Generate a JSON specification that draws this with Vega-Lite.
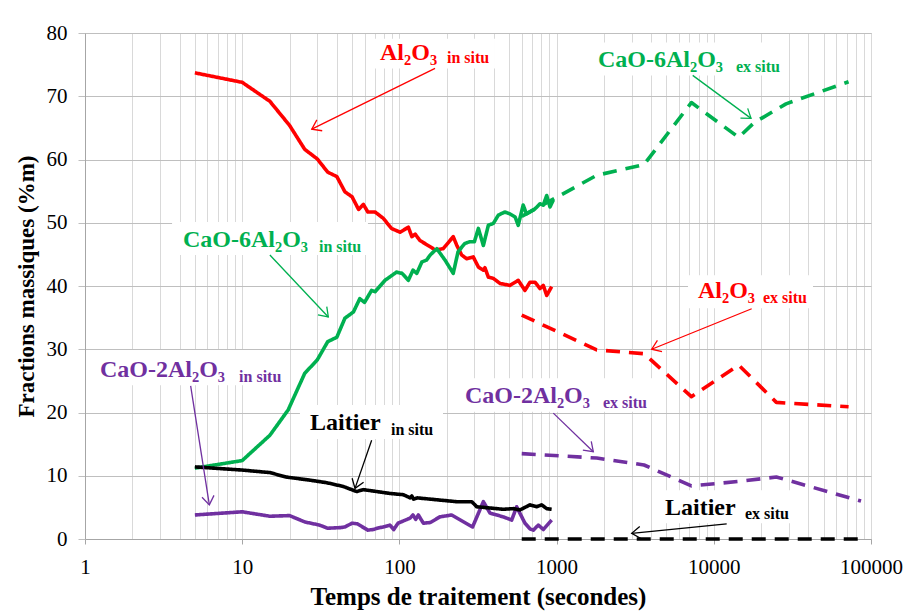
{
  "$schema": "https://vega.github.io/schema/vega-lite/v6.json",
  "width": 786,
  "height": 506,
  "autosize": {"type": "none"},
  "padding": {"left": 85, "top": 33, "right": 34, "bottom": 76},
  "background": "white",
  "config": {
    "font": "Liberation Serif",
    "view": {"stroke": "#bfbfbf"}
  },
  "datasets": {
    "series": [
      {"t": 5, "v": 73.7, "s": "Al2O3", "k": "in situ"},
      {"t": 10, "v": 72.2, "s": "Al2O3", "k": "in situ"},
      {"t": 15, "v": 69.2, "s": "Al2O3", "k": "in situ"},
      {"t": 20, "v": 65.4, "s": "Al2O3", "k": "in situ"},
      {"t": 25, "v": 61.6, "s": "Al2O3", "k": "in situ"},
      {"t": 30, "v": 60.1, "s": "Al2O3", "k": "in situ"},
      {"t": 35, "v": 58.0, "s": "Al2O3", "k": "in situ"},
      {"t": 40, "v": 57.3, "s": "Al2O3", "k": "in situ"},
      {"t": 45, "v": 54.9, "s": "Al2O3", "k": "in situ"},
      {"t": 50, "v": 54.1, "s": "Al2O3", "k": "in situ"},
      {"t": 55, "v": 52.1, "s": "Al2O3", "k": "in situ"},
      {"t": 59, "v": 52.9, "s": "Al2O3", "k": "in situ"},
      {"t": 63, "v": 51.7, "s": "Al2O3", "k": "in situ"},
      {"t": 70, "v": 51.7, "s": "Al2O3", "k": "in situ"},
      {"t": 79, "v": 50.7, "s": "Al2O3", "k": "in situ"},
      {"t": 89, "v": 49.1, "s": "Al2O3", "k": "in situ"},
      {"t": 101, "v": 48.5, "s": "Al2O3", "k": "in situ"},
      {"t": 114, "v": 49.3, "s": "Al2O3", "k": "in situ"},
      {"t": 120, "v": 47.8, "s": "Al2O3", "k": "in situ"},
      {"t": 126, "v": 48.2, "s": "Al2O3", "k": "in situ"},
      {"t": 135, "v": 47.2, "s": "Al2O3", "k": "in situ"},
      {"t": 157, "v": 46.2, "s": "Al2O3", "k": "in situ"},
      {"t": 169, "v": 45.7, "s": "Al2O3", "k": "in situ"},
      {"t": 190, "v": 45.9, "s": "Al2O3", "k": "in situ"},
      {"t": 220, "v": 47.8, "s": "Al2O3", "k": "in situ"},
      {"t": 232, "v": 46.4, "s": "Al2O3", "k": "in situ"},
      {"t": 249, "v": 44.9, "s": "Al2O3", "k": "in situ"},
      {"t": 268, "v": 44.3, "s": "Al2O3", "k": "in situ"},
      {"t": 295, "v": 44.6, "s": "Al2O3", "k": "in situ"},
      {"t": 318, "v": 43.0, "s": "Al2O3", "k": "in situ"},
      {"t": 342, "v": 42.5, "s": "Al2O3", "k": "in situ"},
      {"t": 350, "v": 42.9, "s": "Al2O3", "k": "in situ"},
      {"t": 368, "v": 41.4, "s": "Al2O3", "k": "in situ"},
      {"t": 396, "v": 41.2, "s": "Al2O3", "k": "in situ"},
      {"t": 437, "v": 40.4, "s": "Al2O3", "k": "in situ"},
      {"t": 505, "v": 40.1, "s": "Al2O3", "k": "in situ"},
      {"t": 570, "v": 40.9, "s": "Al2O3", "k": "in situ"},
      {"t": 629, "v": 39.3, "s": "Al2O3", "k": "in situ"},
      {"t": 677, "v": 40.6, "s": "Al2O3", "k": "in situ"},
      {"t": 729, "v": 40.6, "s": "Al2O3", "k": "in situ"},
      {"t": 784, "v": 39.6, "s": "Al2O3", "k": "in situ"},
      {"t": 823, "v": 40.1, "s": "Al2O3", "k": "in situ"},
      {"t": 865, "v": 38.5, "s": "Al2O3", "k": "in situ"},
      {"t": 930, "v": 39.9, "s": "Al2O3", "k": "in situ"},

      {"t": 5, "v": 11.2, "s": "CaO-6Al2O3", "k": "in situ"},
      {"t": 10, "v": 12.4, "s": "CaO-6Al2O3", "k": "in situ"},
      {"t": 15, "v": 16.4, "s": "CaO-6Al2O3", "k": "in situ"},
      {"t": 19.6, "v": 20.4, "s": "CaO-6Al2O3", "k": "in situ"},
      {"t": 25, "v": 26.2, "s": "CaO-6Al2O3", "k": "in situ"},
      {"t": 30, "v": 28.3, "s": "CaO-6Al2O3", "k": "in situ"},
      {"t": 35, "v": 31.2, "s": "CaO-6Al2O3", "k": "in situ"},
      {"t": 40, "v": 31.9, "s": "CaO-6Al2O3", "k": "in situ"},
      {"t": 45, "v": 34.9, "s": "CaO-6Al2O3", "k": "in situ"},
      {"t": 51, "v": 35.9, "s": "CaO-6Al2O3", "k": "in situ"},
      {"t": 56, "v": 38.0, "s": "CaO-6Al2O3", "k": "in situ"},
      {"t": 60, "v": 37.4, "s": "CaO-6Al2O3", "k": "in situ"},
      {"t": 66.5, "v": 39.3, "s": "CaO-6Al2O3", "k": "in situ"},
      {"t": 70, "v": 39.1, "s": "CaO-6Al2O3", "k": "in situ"},
      {"t": 81, "v": 40.9, "s": "CaO-6Al2O3", "k": "in situ"},
      {"t": 96, "v": 42.2, "s": "CaO-6Al2O3", "k": "in situ"},
      {"t": 104, "v": 42.0, "s": "CaO-6Al2O3", "k": "in situ"},
      {"t": 114, "v": 40.9, "s": "CaO-6Al2O3", "k": "in situ"},
      {"t": 122, "v": 42.5, "s": "CaO-6Al2O3", "k": "in situ"},
      {"t": 129, "v": 42.0, "s": "CaO-6Al2O3", "k": "in situ"},
      {"t": 139, "v": 43.8, "s": "CaO-6Al2O3", "k": "in situ"},
      {"t": 149, "v": 44.1, "s": "CaO-6Al2O3", "k": "in situ"},
      {"t": 157, "v": 44.9, "s": "CaO-6Al2O3", "k": "in situ"},
      {"t": 173, "v": 45.9, "s": "CaO-6Al2O3", "k": "in situ"},
      {"t": 195, "v": 44.1, "s": "CaO-6Al2O3", "k": "in situ"},
      {"t": 220, "v": 42.0, "s": "CaO-6Al2O3", "k": "in situ"},
      {"t": 236, "v": 45.4, "s": "CaO-6Al2O3", "k": "in situ"},
      {"t": 260, "v": 46.7, "s": "CaO-6Al2O3", "k": "in situ"},
      {"t": 280, "v": 47.0, "s": "CaO-6Al2O3", "k": "in situ"},
      {"t": 300, "v": 47.0, "s": "CaO-6Al2O3", "k": "in situ"},
      {"t": 318, "v": 49.1, "s": "CaO-6Al2O3", "k": "in situ"},
      {"t": 342, "v": 46.4, "s": "CaO-6Al2O3", "k": "in situ"},
      {"t": 368, "v": 49.6, "s": "CaO-6Al2O3", "k": "in situ"},
      {"t": 396, "v": 49.9, "s": "CaO-6Al2O3", "k": "in situ"},
      {"t": 426, "v": 51.2, "s": "CaO-6Al2O3", "k": "in situ"},
      {"t": 468, "v": 51.7, "s": "CaO-6Al2O3", "k": "in situ"},
      {"t": 505, "v": 51.4, "s": "CaO-6Al2O3", "k": "in situ"},
      {"t": 545, "v": 50.9, "s": "CaO-6Al2O3", "k": "in situ"},
      {"t": 570, "v": 49.6, "s": "CaO-6Al2O3", "k": "in situ"},
      {"t": 613, "v": 52.8, "s": "CaO-6Al2O3", "k": "in situ"},
      {"t": 643, "v": 51.4, "s": "CaO-6Al2O3", "k": "in situ"},
      {"t": 729, "v": 52.2, "s": "CaO-6Al2O3", "k": "in situ"},
      {"t": 784, "v": 53.0, "s": "CaO-6Al2O3", "k": "in situ"},
      {"t": 823, "v": 52.8, "s": "CaO-6Al2O3", "k": "in situ"},
      {"t": 865, "v": 54.3, "s": "CaO-6Al2O3", "k": "in situ"},
      {"t": 908, "v": 52.5, "s": "CaO-6Al2O3", "k": "in situ"},
      {"t": 953, "v": 53.6, "s": "CaO-6Al2O3", "k": "in situ"},

      {"t": 5, "v": 3.8, "s": "CaO-2Al2O3", "k": "in situ"},
      {"t": 10, "v": 4.3, "s": "CaO-2Al2O3", "k": "in situ"},
      {"t": 15, "v": 3.6, "s": "CaO-2Al2O3", "k": "in situ"},
      {"t": 20, "v": 3.7, "s": "CaO-2Al2O3", "k": "in situ"},
      {"t": 25, "v": 2.7, "s": "CaO-2Al2O3", "k": "in situ"},
      {"t": 31, "v": 2.2, "s": "CaO-2Al2O3", "k": "in situ"},
      {"t": 35, "v": 1.7, "s": "CaO-2Al2O3", "k": "in situ"},
      {"t": 42, "v": 1.8, "s": "CaO-2Al2O3", "k": "in situ"},
      {"t": 45, "v": 1.9, "s": "CaO-2Al2O3", "k": "in situ"},
      {"t": 50, "v": 2.5, "s": "CaO-2Al2O3", "k": "in situ"},
      {"t": 54, "v": 2.4, "s": "CaO-2Al2O3", "k": "in situ"},
      {"t": 63, "v": 1.4, "s": "CaO-2Al2O3", "k": "in situ"},
      {"t": 68, "v": 1.5, "s": "CaO-2Al2O3", "k": "in situ"},
      {"t": 75, "v": 1.8, "s": "CaO-2Al2O3", "k": "in situ"},
      {"t": 79, "v": 1.9, "s": "CaO-2Al2O3", "k": "in situ"},
      {"t": 87, "v": 2.2, "s": "CaO-2Al2O3", "k": "in situ"},
      {"t": 92, "v": 1.5, "s": "CaO-2Al2O3", "k": "in situ"},
      {"t": 98, "v": 2.5, "s": "CaO-2Al2O3", "k": "in situ"},
      {"t": 117, "v": 3.3, "s": "CaO-2Al2O3", "k": "in situ"},
      {"t": 122, "v": 3.8, "s": "CaO-2Al2O3", "k": "in situ"},
      {"t": 127, "v": 3.1, "s": "CaO-2Al2O3", "k": "in situ"},
      {"t": 132, "v": 3.8, "s": "CaO-2Al2O3", "k": "in situ"},
      {"t": 142, "v": 2.5, "s": "CaO-2Al2O3", "k": "in situ"},
      {"t": 157, "v": 2.6, "s": "CaO-2Al2O3", "k": "in situ"},
      {"t": 181, "v": 3.5, "s": "CaO-2Al2O3", "k": "in situ"},
      {"t": 215, "v": 3.8, "s": "CaO-2Al2O3", "k": "in situ"},
      {"t": 292, "v": 1.9, "s": "CaO-2Al2O3", "k": "in situ"},
      {"t": 342, "v": 5.9, "s": "CaO-2Al2O3", "k": "in situ"},
      {"t": 377, "v": 4.1, "s": "CaO-2Al2O3", "k": "in situ"},
      {"t": 458, "v": 3.5, "s": "CaO-2Al2O3", "k": "in situ"},
      {"t": 518, "v": 3.0, "s": "CaO-2Al2O3", "k": "in situ"},
      {"t": 557, "v": 5.1, "s": "CaO-2Al2O3", "k": "in situ"},
      {"t": 629, "v": 2.5, "s": "CaO-2Al2O3", "k": "in situ"},
      {"t": 677, "v": 1.6, "s": "CaO-2Al2O3", "k": "in situ"},
      {"t": 711, "v": 1.4, "s": "CaO-2Al2O3", "k": "in situ"},
      {"t": 765, "v": 2.2, "s": "CaO-2Al2O3", "k": "in situ"},
      {"t": 823, "v": 1.5, "s": "CaO-2Al2O3", "k": "in situ"},
      {"t": 930, "v": 3.0, "s": "CaO-2Al2O3", "k": "in situ"},

      {"t": 5, "v": 11.4, "s": "Laitier", "k": "in situ"},
      {"t": 10, "v": 10.9, "s": "Laitier", "k": "in situ"},
      {"t": 15, "v": 10.5, "s": "Laitier", "k": "in situ"},
      {"t": 19, "v": 9.8, "s": "Laitier", "k": "in situ"},
      {"t": 27, "v": 9.3, "s": "Laitier", "k": "in situ"},
      {"t": 34.5, "v": 8.9, "s": "Laitier", "k": "in situ"},
      {"t": 44, "v": 8.3, "s": "Laitier", "k": "in situ"},
      {"t": 53.5, "v": 7.5, "s": "Laitier", "k": "in situ"},
      {"t": 59, "v": 7.8, "s": "Laitier", "k": "in situ"},
      {"t": 72, "v": 7.5, "s": "Laitier", "k": "in situ"},
      {"t": 87, "v": 7.2, "s": "Laitier", "k": "in situ"},
      {"t": 106, "v": 7.0, "s": "Laitier", "k": "in situ"},
      {"t": 117, "v": 6.5, "s": "Laitier", "k": "in situ"},
      {"t": 120, "v": 6.8, "s": "Laitier", "k": "in situ"},
      {"t": 123, "v": 6.3, "s": "Laitier", "k": "in situ"},
      {"t": 130, "v": 6.5, "s": "Laitier", "k": "in situ"},
      {"t": 173, "v": 6.2, "s": "Laitier", "k": "in situ"},
      {"t": 231, "v": 5.9, "s": "Laitier", "k": "in situ"},
      {"t": 289, "v": 5.9, "s": "Laitier", "k": "in situ"},
      {"t": 310, "v": 5.1, "s": "Laitier", "k": "in situ"},
      {"t": 458, "v": 4.7, "s": "Laitier", "k": "in situ"},
      {"t": 531, "v": 4.8, "s": "Laitier", "k": "in situ"},
      {"t": 585, "v": 4.6, "s": "Laitier", "k": "in situ"},
      {"t": 677, "v": 5.4, "s": "Laitier", "k": "in situ"},
      {"t": 747, "v": 5.1, "s": "Laitier", "k": "in situ"},
      {"t": 804, "v": 5.4, "s": "Laitier", "k": "in situ"},
      {"t": 865, "v": 4.8, "s": "Laitier", "k": "in situ"},
      {"t": 930, "v": 4.7, "s": "Laitier", "k": "in situ"},

      {"t": 600, "v": 35.4, "s": "Al2O3", "k": "ex situ"},
      {"t": 1800, "v": 29.9, "s": "Al2O3", "k": "ex situ"},
      {"t": 3600, "v": 29.3, "s": "Al2O3", "k": "ex situ"},
      {"t": 7200, "v": 22.5, "s": "Al2O3", "k": "ex situ"},
      {"t": 14400, "v": 27.5, "s": "Al2O3", "k": "ex situ"},
      {"t": 25000, "v": 21.6, "s": "Al2O3", "k": "ex situ"},
      {"t": 72000, "v": 20.9, "s": "Al2O3", "k": "ex situ"},

      {"t": 600, "v": 51.0, "s": "CaO-6Al2O3", "k": "ex situ"},
      {"t": 1800, "v": 57.5, "s": "CaO-6Al2O3", "k": "ex situ"},
      {"t": 3600, "v": 59.2, "s": "CaO-6Al2O3", "k": "ex situ"},
      {"t": 7200, "v": 69.0, "s": "CaO-6Al2O3", "k": "ex situ"},
      {"t": 14400, "v": 63.5, "s": "CaO-6Al2O3", "k": "ex situ"},
      {"t": 18000, "v": 65.8, "s": "CaO-6Al2O3", "k": "ex situ"},
      {"t": 28800, "v": 68.8, "s": "CaO-6Al2O3", "k": "ex situ"},
      {"t": 72000, "v": 72.3, "s": "CaO-6Al2O3", "k": "ex situ"},

      {"t": 600, "v": 13.5, "s": "CaO-2Al2O3", "k": "ex situ"},
      {"t": 1800, "v": 12.8, "s": "CaO-2Al2O3", "k": "ex situ"},
      {"t": 3600, "v": 11.7, "s": "CaO-2Al2O3", "k": "ex situ"},
      {"t": 7200, "v": 8.4, "s": "CaO-2Al2O3", "k": "ex situ"},
      {"t": 14400, "v": 9.1, "s": "CaO-2Al2O3", "k": "ex situ"},
      {"t": 25000, "v": 9.8, "s": "CaO-2Al2O3", "k": "ex situ"},
      {"t": 86400, "v": 6.0, "s": "CaO-2Al2O3", "k": "ex situ"},

      {"t": 600, "v": 0, "s": "Laitier", "k": "ex situ"},
      {"t": 1800, "v": 0, "s": "Laitier", "k": "ex situ"},
      {"t": 3600, "v": 0, "s": "Laitier", "k": "ex situ"},
      {"t": 7200, "v": 0, "s": "Laitier", "k": "ex situ"},
      {"t": 14400, "v": 0, "s": "Laitier", "k": "ex situ"},
      {"t": 25000, "v": 0, "s": "Laitier", "k": "ex situ"},
      {"t": 86400, "v": 0, "s": "Laitier", "k": "ex situ"}
    ],
    "boxes": [
      {"x": 67.9, "x2": 405.5, "y": 79.1, "y2": 74.4},
      {"x": 3.58, "x2": 63.1, "y": 50.1, "y2": 44.9},
      {"x": 1560, "x2": 29650, "y": 78.5, "y2": 73.3},
      {"x": 6855, "x2": 42760, "y": 41.7, "y2": 36.5},
      {"x": 1.108, "x2": 19.28, "y": 29.9, "y2": 24.3},
      {"x": 225.8, "x2": 4045, "y": 25.4, "y2": 20.1},
      {"x": 23.3, "x2": 189.4, "y": 21.2, "y2": 15.8},
      {"x": 4227, "x2": 32870, "y": 7.7, "y2": 2.5}
    ],
    "labels": [
      {"x": 75.3, "y": 75.7, "txt": "Al₂O₃", "s": "Al2O3", "part": "m"},
      {"x": 200.8, "y": 75.2, "txt": "in situ", "s": "Al2O3", "part": "s"},
      {"x": 4.2, "y": 46.1, "txt": "CaO-6Al₂O₃", "s": "CaO-6Al2O3", "part": "m"},
      {"x": 30.8, "y": 45.3, "txt": "in situ", "s": "CaO-6Al2O3", "part": "s"},
      {"x": 1834, "y": 74.6, "txt": "CaO-6Al₂O₃", "s": "CaO-6Al2O3", "part": "m"},
      {"x": 13840, "y": 73.9, "txt": "ex situ", "s": "CaO-6Al2O3", "part": "s"},
      {"x": 7934, "y": 38.1, "txt": "Al₂O₃", "s": "Al2O3", "part": "m"},
      {"x": 20560, "y": 37.3, "txt": "ex situ", "s": "Al2O3", "part": "s"},
      {"x": 1.246, "y": 25.6, "txt": "CaO-2Al₂O₃", "s": "CaO-2Al2O3", "part": "m"},
      {"x": 9.55, "y": 24.8, "txt": "in situ", "s": "CaO-2Al2O3", "part": "s"},
      {"x": 261, "y": 21.5, "txt": "CaO-2Al₂O₃", "s": "CaO-2Al2O3", "part": "m"},
      {"x": 1973, "y": 20.7, "txt": "ex situ", "s": "CaO-2Al2O3", "part": "s"},
      {"x": 27.0, "y": 17.2, "txt": "Laitier", "s": "Laitier", "part": "m"},
      {"x": 88.4, "y": 16.4, "txt": "in situ", "s": "Laitier", "part": "s"},
      {"x": 4895, "y": 3.8, "txt": "Laitier", "s": "Laitier", "part": "m"},
      {"x": 15790, "y": 3.2, "txt": "ex situ", "s": "Laitier", "part": "s"}
    ],
    "arrows": [
      {"id": 1, "x": 168.5, "y": 74.4, "x2": 27.7, "y2": 64.8, "s": "Al2O3"},
      {"id": 2, "x": 15.0, "y": 44.9, "x2": 35.3, "y2": 35.1, "s": "CaO-6Al2O3"},
      {"id": 3, "x": 4.7, "y": 24.2, "x2": 6.18, "y2": 5.4, "s": "CaO-2Al2O3"},
      {"id": 4, "x": 66.6, "y": 15.6, "x2": 52.2, "y2": 8.0, "s": "Laitier"},
      {"id": 5, "x": 7340, "y": 73.3, "x2": 17250, "y2": 66.5, "s": "CaO-6Al2O3"},
      {"id": 6, "x": 17420, "y": 36.4, "x2": 4027, "y2": 30.0, "s": "Al2O3"},
      {"id": 7, "x": 953, "y": 19.9, "x2": 1712, "y2": 13.8, "s": "CaO-2Al2O3"},
      {"id": 8, "x": 12080, "y": 2.4, "x2": 3004, "y2": 0.9, "s": "Laitier"}
    ]
  },
  "layer": [
    {
      "data": {"name": "boxes"},
      "mark": {"type": "rect", "fill": "white", "stroke": null},
      "encoding": {
        "x": {
          "field": "x", "type": "quantitative",
          "title": "Temps de traitement (secondes)",
          "scale": {"type": "log", "domain": [1, 100000], "nice": false},
          "axis": {
            "title": "Temps de traitement (secondes)",
            "values": [1,2,3,4,5,6,7,8,9,10,20,30,40,50,60,70,80,90,100,200,300,400,500,600,700,800,900,1000,2000,3000,4000,5000,6000,7000,8000,9000,10000,20000,30000,40000,50000,60000,70000,80000,90000,100000],
            "format": "d",
            "labelExpr": "indexof([1,10,100,1000,10000,100000], datum.value) >= 0 ? datum.label : ''",
            "grid": true,
            "gridColor": "#d9d9d9",
            "gridWidth": 1,
            "tickOpacity": {"condition": {"test": "indexof([1,10,100,1000,10000,100000], datum.value) >= 0", "value": 1}, "value": 0},
            "tickSize": 5,
            "tickColor": "#a6a6a6",
            "domainColor": "#a6a6a6",
            "labelFontSize": 21,
            "labelColor": "#000000",
            "labelPadding": 12,
            "labelFlush": false,
            "labelOverlap": false,
            "titleFontSize": 25,
            "titleFontWeight": "bold",
            "titleColor": "#000000",
            "titlePadding": 7
          }
        },
        "x2": {"field": "x2"},
        "y": {
          "field": "y", "type": "quantitative",
          "title": "Fractions massiques (%m)",
          "scale": {"domain": [0, 80], "nice": false},
          "axis": {
            "title": "Fractions massiques (%m)",
            "values": [0, 10, 20, 30, 40, 50, 60, 70, 80],
            "grid": true,
            "gridColor": "#bfbfbf",
            "tickSize": 7,
            "tickColor": "#bfbfbf",
            "domainColor": "#a6a6a6",
            "labelFontSize": 21,
            "labelColor": "#000000",
            "labelPadding": 11,
            "titleFontSize": 23,
            "titleFontWeight": "bold",
            "titleColor": "#000000",
            "titlePadding": 8
          }
        },
        "y2": {"field": "y2"}
      }
    },
    {
      "data": {"name": "series"},
      "mark": {"type": "line", "strokeWidth": 3.6, "strokeJoin": "round"},
      "encoding": {
        "x": {"field": "t", "type": "quantitative", "title": "Temps de traitement (secondes)"},
        "y": {"field": "v", "type": "quantitative", "title": "Fractions massiques (%m)"},
        "color": {
          "field": "s", "type": "nominal",
          "scale": {"domain": ["Al2O3", "CaO-6Al2O3", "CaO-2Al2O3", "Laitier"], "range": ["#ff0000", "#00b050", "#7030a0", "#000000"]},
          "legend": null
        },
        "strokeDash": {
          "field": "k", "type": "nominal",
          "scale": {"domain": ["in situ", "ex situ"], "range": [[1, 0], [14, 9]]},
          "legend": null
        }
      }
    },
    {
      "data": {"name": "arrows"},
      "mark": {"type": "rule", "strokeWidth": 1.3},
      "encoding": {
        "x": {"field": "x", "type": "quantitative", "title": "Temps de traitement (secondes)"},
        "y": {"field": "y", "type": "quantitative", "title": "Fractions massiques (%m)"},
        "x2": {"field": "x2"},
        "y2": {"field": "y2"},
        "color": {"field": "s", "type": "nominal", "legend": null}
      }
    },
    {
      "data": {"name": "arrows"},
      "transform": [{"filter": "datum.id == 1"}],
      "mark": {"type": "point", "shape": "M -1 -0.7 L 0 0 L -1 0.7", "size": 300, "strokeWidth": 1.3, "filled": false, "opacity": 1, "angle": 153.8},
      "encoding": {"x": {"field": "x2", "type": "quantitative", "title": "Temps de traitement (secondes)"}, "y": {"field": "y2", "type": "quantitative", "title": "Fractions massiques (%m)"}, "color": {"field": "s", "type": "nominal", "legend": null}}
    },
    {
      "data": {"name": "arrows"},
      "transform": [{"filter": "datum.id == 2"}],
      "mark": {"type": "point", "shape": "M -1 -0.7 L 0 0 L -1 0.7", "size": 300, "strokeWidth": 1.3, "filled": false, "opacity": 1, "angle": 46.6},
      "encoding": {"x": {"field": "x2", "type": "quantitative", "title": "Temps de traitement (secondes)"}, "y": {"field": "y2", "type": "quantitative", "title": "Fractions massiques (%m)"}, "color": {"field": "s", "type": "nominal", "legend": null}}
    },
    {
      "data": {"name": "arrows"},
      "transform": [{"filter": "datum.id == 3"}],
      "mark": {"type": "point", "shape": "M -1 -0.7 L 0 0 L -1 0.7", "size": 300, "strokeWidth": 1.3, "filled": false, "opacity": 1, "angle": 81.1},
      "encoding": {"x": {"field": "x2", "type": "quantitative", "title": "Temps de traitement (secondes)"}, "y": {"field": "y2", "type": "quantitative", "title": "Fractions massiques (%m)"}, "color": {"field": "s", "type": "nominal", "legend": null}}
    },
    {
      "data": {"name": "arrows"},
      "transform": [{"filter": "datum.id == 4"}],
      "mark": {"type": "point", "shape": "M -1 -0.7 L 0 0 L -1 0.7", "size": 300, "strokeWidth": 1.3, "filled": false, "opacity": 1, "angle": 109.1},
      "encoding": {"x": {"field": "x2", "type": "quantitative", "title": "Temps de traitement (secondes)"}, "y": {"field": "y2", "type": "quantitative", "title": "Fractions massiques (%m)"}, "color": {"field": "s", "type": "nominal", "legend": null}}
    },
    {
      "data": {"name": "arrows"},
      "transform": [{"filter": "datum.id == 5"}],
      "mark": {"type": "point", "shape": "M -1 -0.7 L 0 0 L -1 0.7", "size": 300, "strokeWidth": 1.3, "filled": false, "opacity": 1, "angle": 36.6},
      "encoding": {"x": {"field": "x2", "type": "quantitative", "title": "Temps de traitement (secondes)"}, "y": {"field": "y2", "type": "quantitative", "title": "Fractions massiques (%m)"}, "color": {"field": "s", "type": "nominal", "legend": null}}
    },
    {
      "data": {"name": "arrows"},
      "transform": [{"filter": "datum.id == 6"}],
      "mark": {"type": "point", "shape": "M -1 -0.7 L 0 0 L -1 0.7", "size": 300, "strokeWidth": 1.3, "filled": false, "opacity": 1, "angle": 157.7},
      "encoding": {"x": {"field": "x2", "type": "quantitative", "title": "Temps de traitement (secondes)"}, "y": {"field": "y2", "type": "quantitative", "title": "Fractions massiques (%m)"}, "color": {"field": "s", "type": "nominal", "legend": null}}
    },
    {
      "data": {"name": "arrows"},
      "transform": [{"filter": "datum.id == 7"}],
      "mark": {"type": "point", "shape": "M -1 -0.7 L 0 0 L -1 0.7", "size": 300, "strokeWidth": 1.3, "filled": false, "opacity": 1, "angle": 43.8},
      "encoding": {"x": {"field": "x2", "type": "quantitative", "title": "Temps de traitement (secondes)"}, "y": {"field": "y2", "type": "quantitative", "title": "Fractions massiques (%m)"}, "color": {"field": "s", "type": "nominal", "legend": null}}
    },
    {
      "data": {"name": "arrows"},
      "transform": [{"filter": "datum.id == 8"}],
      "mark": {"type": "point", "shape": "M -1 -0.7 L 0 0 L -1 0.7", "size": 300, "strokeWidth": 1.3, "filled": false, "opacity": 1, "angle": 174.4},
      "encoding": {"x": {"field": "x2", "type": "quantitative", "title": "Temps de traitement (secondes)"}, "y": {"field": "y2", "type": "quantitative", "title": "Fractions massiques (%m)"}, "color": {"field": "s", "type": "nominal", "legend": null}}
    },
    {
      "data": {"name": "labels"},
      "transform": [{"filter": "datum.part == 'm'"}],
      "mark": {"type": "text", "align": "left", "baseline": "alphabetic", "fontSize": 24, "fontWeight": "bold", "font": "Liberation Serif"},
      "encoding": {
        "x": {"field": "x", "type": "quantitative", "title": "Temps de traitement (secondes)"},
        "y": {"field": "y", "type": "quantitative", "title": "Fractions massiques (%m)"},
        "text": {"field": "txt"},
        "color": {"field": "s", "type": "nominal", "legend": null}
      }
    },
    {
      "data": {"name": "labels"},
      "transform": [{"filter": "datum.part == 's'"}],
      "mark": {"type": "text", "align": "left", "baseline": "alphabetic", "fontSize": 16, "fontWeight": "bold", "font": "Liberation Serif"},
      "encoding": {
        "x": {"field": "x", "type": "quantitative", "title": "Temps de traitement (secondes)"},
        "y": {"field": "y", "type": "quantitative", "title": "Fractions massiques (%m)"},
        "text": {"field": "txt"},
        "color": {"field": "s", "type": "nominal", "legend": null}
      }
    }
  ]
}
